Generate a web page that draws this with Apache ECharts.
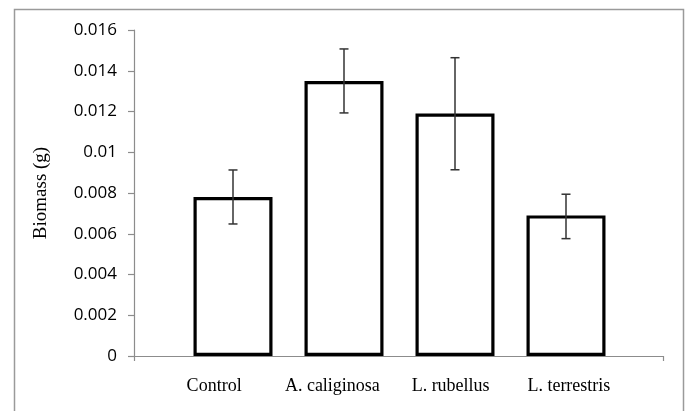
<!DOCTYPE html>
<html>
<head>
<meta charset="utf-8">
<script src="https://cdn.jsdelivr.net/npm/echarts@6/dist/echarts.min.js"></script>
<style>
html,body{margin:0;padding:0;background:#fff;}
#chart{width:688px;height:411px;}
</style>
</head>
<body>
<div id="chart"></div>
<script>
// Data
var categories = ['Control', 'A. caliginosa', 'L. rubellus', 'L. terrestris'];
var biomass = [0.0078, 0.0135, 0.0119, 0.0069];
var errUpper = [0.00913, 0.01507, 0.01464, 0.00794];
var errLower = [0.00648, 0.01193, 0.00914, 0.00576];
var yTicks = { min: 0, max: 0.016, interval: 0.002 };
var yAxisTitle = 'Biomass (g)';

var chart = echarts.init(document.getElementById('chart'), null, { renderer: 'canvas' });

var errData = categories.map(function (c, i) { return [i, errLower[i], errUpper[i]]; });

var hiddenY = { type: 'value', min: yTicks.min, max: yTicks.max, show: false };

var option = {
  backgroundColor: '#fff',
  animation: false,
  graphic: [{
    type: 'rect', silent: true, z: -10,
    shape: { x: 14.5, y: 9.5, width: 669, height: 430 },
    style: { fill: 'none', stroke: '#9a9a9a', lineWidth: 1.5 }
  }],
  grid: [
    { left: 134, right: 25, top: 30, bottom: 55 },
    { left: 177.5, right: 66.5, top: 30, bottom: 55 },
    { left: 155, right: 60, top: 30, bottom: 55 }
  ],
  xAxis: [
    {
      gridIndex: 0, type: 'category', data: [''], boundaryGap: true,
      axisLine: { show: true, lineStyle: { color: '#8c8c8c', width: 1.2 } },
      axisTick: { show: true, length: 5, lineStyle: { color: '#8c8c8c', width: 1.2 } },
      axisLabel: { show: false }
    },
    {
      gridIndex: 1, type: 'category', data: categories,
      axisLine: { show: false }, axisTick: { show: false }, axisLabel: { show: false }
    },
    {
      gridIndex: 2, type: 'category', data: categories,
      axisLine: { show: false }, axisTick: { show: false },
      axisLabel: {
        show: true, interval: 0, margin: 21,
        fontFamily: 'Liberation Serif', fontSize: 18, color: '#000'
      }
    }
  ],
  yAxis: [
    {
      gridIndex: 0, type: 'value', min: yTicks.min, max: yTicks.max, interval: yTicks.interval,
      name: yAxisTitle, nameLocation: 'middle', nameGap: 83, nameRotate: 90,
      nameTextStyle: { fontFamily: 'Liberation Serif', fontSize: 19, color: '#000' },
      axisLine: { show: true, lineStyle: { color: '#8c8c8c', width: 1.2 } },
      axisTick: { show: true, length: 6, lineStyle: { color: '#8c8c8c', width: 1.2 } },
      splitLine: { show: false },
      axisLabel: {
        margin: 17, fontFamily: 'Open Sans', fontSize: 17, color: '#000',
        formatter: function (v) { return String(parseFloat(v.toFixed(4))); }
      }
    },
    Object.assign({ gridIndex: 1 }, hiddenY),
    Object.assign({ gridIndex: 2 }, hiddenY)
  ],
  series: [
    {
      type: 'bar', xAxisIndex: 1, yAxisIndex: 1,
      data: biomass, barWidth: 79,
      itemStyle: { color: '#fff', borderColor: '#000', borderWidth: 3.2 },
      z: 2
    },
    {
      type: 'custom', xAxisIndex: 1, yAxisIndex: 1, z: 5,
      data: errData,
      renderItem: function (params, api) {
        var x = api.value(0);
        var lo = api.coord([x, api.value(1)]);
        var hi = api.coord([x, api.value(2)]);
        var cap = 4.5;
        var st = { stroke: '#333', lineWidth: 1.5 };
        return {
          type: 'group',
          children: [
            { type: 'line', shape: { x1: hi[0], y1: hi[1], x2: lo[0], y2: lo[1] }, style: st },
            { type: 'line', shape: { x1: hi[0] - cap, y1: hi[1], x2: hi[0] + cap, y2: hi[1] }, style: st },
            { type: 'line', shape: { x1: lo[0] - cap, y1: lo[1], x2: lo[0] + cap, y2: lo[1] }, style: st }
          ]
        };
      }
    }
  ]
};
chart.setOption(option);
</script>
</body>
</html>
